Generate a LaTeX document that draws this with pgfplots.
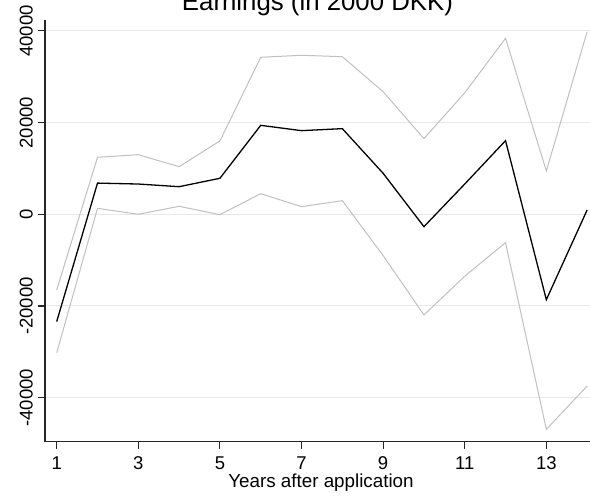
\documentclass[border=0pt]{standalone}
\usepackage{fontspec}
\setmainfont{Liberation Sans}
\usepackage{pgfplots}
\pgfplotsset{compat=1.18}
\definecolor{ciGray}{RGB}{192,192,192}
\definecolor{gridGray}{RGB}{232,232,232}

\pgfplotstableread{
year est lo hi
1 -23400 -30200 -16500
2 6800 1300 12430
3 6600 0 13000
4 6020 1740 10380
5 7850 -80 16000
6 19400 4500 34240
7 18240 1660 34680
8 18680 2970 34370
9 8940 -9000 26740
10 -2700 -21960 16500
11 6600 -13500 26500
12 16060 -6190 38380
13 -18620 -46900 9440
14 940 -37450 39830
}\earnings

\begin{document}
\begin{tikzpicture}[x=1pt,y=1pt]
\begin{axis}[
    scale only axis,
    width=545pt, height=421.6pt,
    anchor=south west, at={(45pt,56.4pt)},
    axis x line*=bottom, axis y line*=left,
    axis line style={black!85, line width=1.2pt},
    xmin=0.713, xmax=14.07,
    ymin=-49575, ymax=42377,
    scaled ticks=false,
    xtick={1,3,5,7,9,11,13},
    xticklabels={1,3,5,7,9,11,13},
    ytick={-40000,-20000,0,20000,40000},
    yticklabels={-40000,-20000,0,20000,40000},
    xtick align=outside, ytick align=outside,
    major tick length=7.5pt,
    every tick/.style={black!85, line width=1.1pt},
    ymajorgrids, grid style={gridGray, line width=1pt},
    ticklabel style={font=\fontsize{18.5}{20}\selectfont, inner sep=0pt},
    yticklabel style={rotate=90, anchor=base},
    yticklabel shift=5pt,
    xticklabel style={anchor=base},
    xticklabel shift=20.5pt,
    clip=false,
]
\addplot[ciGray, line width=1pt] table[x=year, y=hi] {\earnings};
\addplot[ciGray, line width=1pt] table[x=year, y=lo] {\earnings};
\addplot[black, line width=1.3pt] table[x=year, y=est] {\earnings};
% tick marks, drawn by hand so they show outside the axis lines
\pgfplotsinvokeforeach{1,3,5,7,9,11,13}{
  \draw[black!85, line width=1.1pt] (axis cs:#1,-49575) -- ++(0pt,-7.5pt);
}
\pgfplotsinvokeforeach{-40000,-20000,0,20000,40000}{
  \draw[black!85, line width=1.1pt] (axis cs:0.713,#1) -- ++(-7pt,0pt);
}
\end{axis}
\node[anchor=base, font=\fontsize{25.8}{28}\selectfont, inner sep=0pt] at (317.5pt,487pt) {Earnings (in 2000 DKK)};
\node[anchor=base, font=\fontsize{18.8}{21}\selectfont, inner sep=0pt] at (321pt,10.7pt) {Years after application};
\pgfresetboundingbox
\useasboundingbox (0,0) rectangle (590pt,498pt);
\end{tikzpicture}
\end{document}
